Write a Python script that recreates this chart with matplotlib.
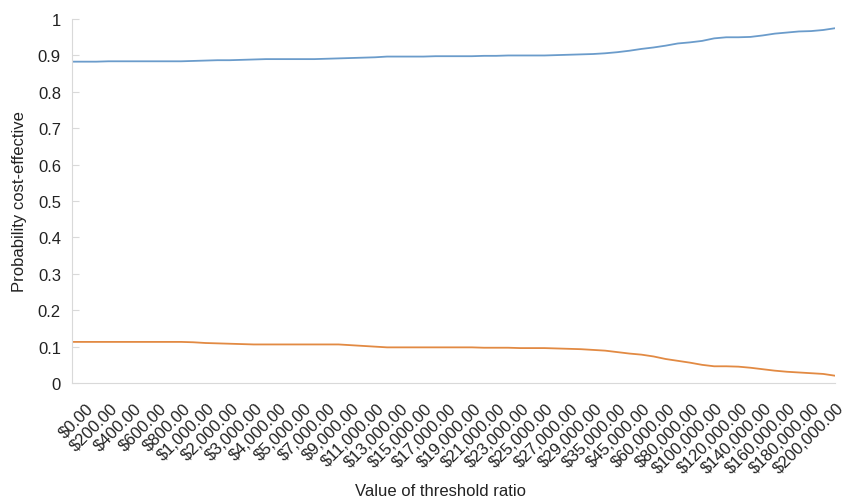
import matplotlib.pyplot as plt
from matplotlib.transforms import ScaledTranslation

plt.rcParams['font.family'] = ['Liberation Sans', 'DejaVu Sans']

# 64 categories; every second one is labelled, the last one is not
thresholds = [0, 100, 200, 300, 400, 500, 600, 700, 800, 900, 1000,
              1500, 2000, 2500, 3000, 3500, 4000, 4500, 5000,
              6000, 7000, 8000, 9000, 10000, 11000, 12000, 13000, 14000, 15000,
              16000, 17000, 18000, 19000, 20000, 21000, 22000, 23000, 24000, 25000,
              26000, 27000, 28000, 29000, 30000, 35000, 40000, 45000, 50000, 60000,
              70000, 80000, 90000, 100000, 110000, 120000, 130000, 140000, 150000,
              160000, 170000, 180000, 190000, 200000, 220000]

prob_a = [0.883, 0.883, 0.883, 0.884, 0.884, 0.884, 0.884, 0.884, 0.884, 0.884,
          0.885, 0.886, 0.887, 0.887, 0.888, 0.889, 0.890, 0.890, 0.890, 0.890,
          0.890, 0.891, 0.892, 0.893, 0.894, 0.895, 0.897, 0.897, 0.897, 0.897,
          0.898, 0.898, 0.898, 0.898, 0.899, 0.899, 0.900, 0.900, 0.900, 0.900,
          0.901, 0.902, 0.903, 0.904, 0.906, 0.909, 0.913, 0.918, 0.922, 0.927,
          0.933, 0.936, 0.940, 0.947, 0.950, 0.950, 0.951, 0.955, 0.960, 0.963,
          0.966, 0.967, 0.970, 0.975]

prob_b = [0.113, 0.113, 0.113, 0.113, 0.113, 0.113, 0.113, 0.113, 0.113, 0.113,
          0.112, 0.110, 0.109, 0.108, 0.107, 0.106, 0.106, 0.106, 0.106, 0.106,
          0.106, 0.106, 0.106, 0.104, 0.102, 0.100, 0.098, 0.098, 0.098, 0.098,
          0.098, 0.098, 0.098, 0.098, 0.097, 0.097, 0.097, 0.096, 0.096, 0.096,
          0.095, 0.094, 0.093, 0.091, 0.089, 0.085, 0.081, 0.078, 0.073, 0.066,
          0.061, 0.056, 0.050, 0.046, 0.046, 0.045, 0.042, 0.038, 0.034, 0.031,
          0.029, 0.027, 0.025, 0.020]

labels = [f"${v:,.2f}" for v in thresholds]

fig = plt.figure(figsize=(8.48, 5.02), dpi=100)
ax = fig.add_axes([0.085, 0.235, 0.9, 0.725])

x = list(range(len(thresholds)))
ax.plot(x, prob_a, color='#6b9ccb', lw=1.3)
ax.plot(x, prob_b, color='#e28a43', lw=1.3)

ax.set_xlim(0, len(thresholds) - 1)
ax.set_ylim(0, 1)
ax.set_yticks([i / 10 for i in range(11)])
ax.set_yticklabels(['0'] + [f"{i / 10:.1f}" for i in range(1, 10)] + ['1'])

for s in ['top', 'right']:
    ax.spines[s].set_visible(False)
for s in ['left', 'bottom']:
    ax.spines[s].set_color('#d9d9d9')
ax.tick_params(axis='y', direction='in', length=5, color='#d9d9d9',
               labelsize=12, labelcolor='#222222', pad=8)
ax.tick_params(axis='x', length=0, pad=0, labelsize=12, labelcolor='#222222')

ax.set_xticks(x[:-1:2])
ax.set_xticklabels(labels[:-1:2], rotation=45, ha='right', va='top',
                   rotation_mode='anchor')
# excel-style placement: label end sits right of the category
shift = ScaledTranslation(0.135, -0.17, fig.dpi_scale_trans)
for t in ax.get_xticklabels():
    t.set_transform(t.get_transform() + shift)

ax.set_ylabel('Probability cost-effective', fontsize=12, color='#222222', labelpad=8)
fig.text(0.519, 1 - 492 / 502, 'Value of threshold ratio', fontsize=12,
         color='#222222', ha='center', va='center')

fig.savefig('out.png', dpi=100)
